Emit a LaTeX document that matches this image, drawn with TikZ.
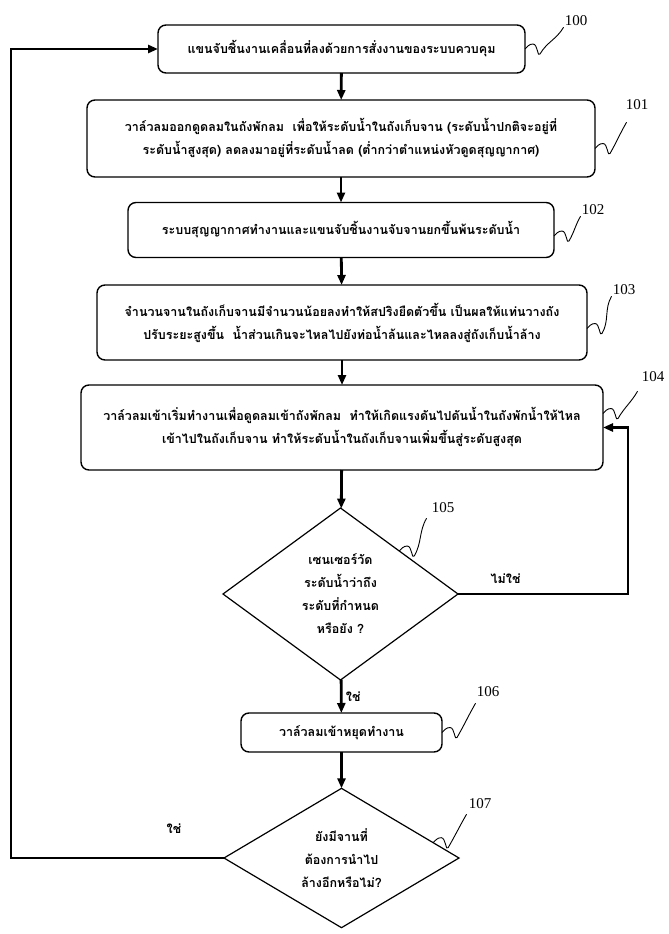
\documentclass[tikz,border=0pt]{standalone}
\usepackage{fontspec}
\setmainfont{Liberation Serif}
\newfontfamily\thaifont[Script=Thai]{Loma}
\usetikzlibrary{shapes.geometric,arrows.meta,calc}

\begin{document}
\begin{tikzpicture}[x=1pt,y=1pt,
    step node/.style={rectangle,rounded corners=8pt,draw,line width=1.4pt,inner sep=0pt,outer sep=0pt,align=center,font=\thaifont\bfseries\fontsize{12.5pt}{23pt}\selectfont},
    test node/.style={diamond,draw,line width=1.2pt,inner sep=0pt,outer sep=0pt,align=center,font=\thaifont\bfseries\fontsize{12.5pt}{23pt}\selectfont},
    ref node/.style={font=\fontsize{15pt}{15pt}\selectfont,inner sep=1pt},
    answer/.style={font=\thaifont\bfseries\fontsize{12.5pt}{14pt}\selectfont},
    flow/.style={line width=2.8pt,-{Triangle[length=10pt,width=8pt]}},
    tag/.style={line width=0.9pt}]
    \useasboundingbox (0,0) rectangle (669,-934);

    % process steps
    \node[step node, minimum width=367pt, minimum height=48pt] at (341.5,-49) (b100) {แขนจับชิ้นงานเคลื่อนที่ลงด้วยการสั่งงานของระบบควบคุม};
    \node[step node, minimum width=508pt, minimum height=77pt] at (341,-138.5) (b101) {วาล์วลมออกดูดลมในถังพักลม\ \ เพื่อให้ระดับน้ำในถังเก็บจาน (ระดับน้ำปกติจะอยู่ที่\\ระดับน้ำสูงสุด) ลดลงมาอยู่ที่ระดับน้ำลด (ต่ำกว่าตำแหน่งหัวดูดสุญญากาศ)};
    \node[step node, minimum width=426pt, minimum height=55pt] at (341,-230) (b102) {ระบบสุญญากาศทำงานและแขนจับชิ้นงานจับจานยกขึ้นพ้นระดับน้ำ};
    \node[step node, minimum width=490pt, minimum height=75pt] at (342,-322.5) (b103) {จำนวนจานในถังเก็บจานมีจำนวนน้อยลงทำให้สปริงยืดตัวขึ้น เป็นผลให้แท่นวางถัง\\ปรับระยะสูงขึ้น\ \ น้ำส่วนเกินจะไหลไปยังท่อน้ำล้นและไหลลงสู่ถังเก็บน้ำล้าง};
    \node[step node, minimum width=522pt, minimum height=85pt] at (342,-427.5) (b104) {วาล์วลมเข้าเริ่มทำงานเพื่อดูดลมเข้าถังพักลม\ \ ทำให้เกิดแรงดันไปดันน้ำในถังพักน้ำให้ไหล\\เข้าไปในถังเก็บจาน ทำให้ระดับน้ำในถังเก็บจานเพิ่มขึ้นสู่ระดับสูงสุด};
    \node[test node, minimum width=235pt, minimum height=172pt] at (340.5,-594) (d105) {เซนเซอร์วัด\\ระดับน้ำว่าถึง\\ระดับที่กำหนด\\หรือยัง ?};
    \node[step node, minimum width=201pt, minimum height=39pt] at (341.5,-732.5) (b106) {วาล์วลมเข้าหยุดทำงาน};
    \node[test node, minimum width=235pt, minimum height=130pt] at (341.5,-858) (d107) {ยังมีจานที่\\ต้องการนำไป\\ล้างอีกหรือไม่?};

    % reference numbers
    \node[ref node] at (576,-21) (l100) {100};
    \node[ref node] at (637,-105) (l101) {101};
    \node[ref node] at (593,-210) (l102) {102};
    \node[ref node] at (624,-290) (l103) {103};
    \node[ref node] at (653,-377) (l104) {104};
    \node[ref node] at (443,-508) (l105) {105};
    \node[ref node] at (488,-692) (l106) {106};
    \node[ref node] at (480,-804) (l107) {107};

    \coordinate (loopL) at (11,0);
    \coordinate (loopR) at (628,0);

    % main flow
    \draw[flow] (b100) -- (b101);
    \draw[flow] (b101) -- (b102);
    \draw[flow] (b102) -- (b103);
    \draw[flow] (b103) -- (b104);
    \draw[flow] (b104) -- (d105);
    \draw[flow] (d105) -- node[answer, right, pos=0.5] {ใช่} (b106);
    \draw[flow] (b106) -- (d107);
    \draw[flow] (d105.east) -- node[answer, above=6pt, pos=0.28] {ไม่ใช่} (d105.east -| loopR) -- (b104.east -| loopR) -- (b104.east);
    \draw[flow] (d107.west) -- node[answer, above=20pt, pos=0.235] {ใช่} (d107.west -| loopL) -- (b100.west -| loopL) -- (b100.west);

    % leader squiggles
    \draw[tag] (b100.east) to[out=45,in=180] ++(8,5) to[out=0,in=240] ++(7,-10) to[out=60,in=240] (l100.south west);
    \draw[tag] ([yshift=-10pt]b101.east) to[out=45,in=180] ++(8,5) to[out=0,in=240] ++(7,-10) to[out=60,in=240] ($(l101.south west)+(2,-11)$);
    \draw[tag] ([yshift=-6pt]b102.east) to[out=45,in=180] ++(8,5) to[out=0,in=240] ++(7,-10) to[out=60,in=240] (l102.south west);
    \draw[tag] ([yshift=-6pt]b103.east) to[out=45,in=180] ++(8,5) to[out=0,in=240] ++(7,-10) to[out=60,in=240] (l103.south west);
    \draw[tag] ([yshift=14pt]b104.east) to[out=45,in=180] ++(8,5) to[out=0,in=240] ++(7,-10) to[out=60,in=240] ($(l104.south west)+(-3,-8)$);
    \draw[tag] (d105.north east) to[out=45,in=180] ++(8,5) to[out=0,in=240] ++(7,-10) to[out=60,in=240] ($(l105.south west)+(-4,-4)$);
    \draw[tag] (b106.east) to[out=45,in=180] ++(8,5) to[out=0,in=240] ++(7,-10) to[out=60,in=240] ($(l106.south west)+(0,-5)$);
    \draw[tag] ($(d107.north)!0.78!(d107.east)$) to[out=45,in=180] ++(8,5) to[out=0,in=240] ++(7,-10) to[out=60,in=240] ($(l107.south west)+(-1,-4)$);
\end{tikzpicture}
\end{document}
